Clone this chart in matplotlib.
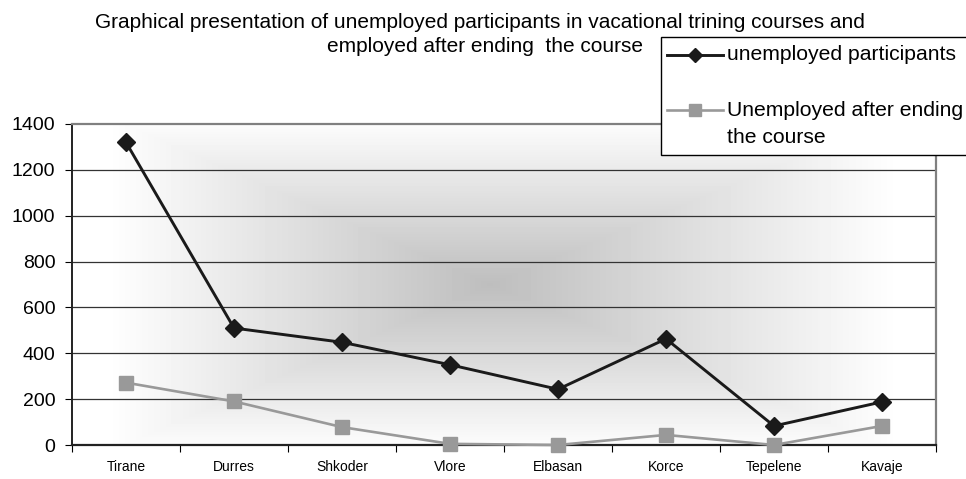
import numpy as np
import matplotlib
matplotlib.use("Agg")
import matplotlib.pyplot as plt
from matplotlib.lines import Line2D
from matplotlib.patches import Rectangle
from matplotlib.ticker import FixedLocator, NullFormatter

plt.rcParams['font.family'] = ['Liberation Sans', 'DejaVu Sans']

cities = ["Tirane", "Durres", "Shkoder", "Vlore", "Elbasan", "Korce", "Tepelene", "Kavaje"]
unemployed_participants = [1320, 510, 448, 350, 243, 463, 83, 188]
unemployed_after_course = [272, 190, 78, 5, 0, 44, 0, 83]
y_ticks = [0, 200, 400, 600, 800, 1000, 1200, 1400]

W, H = 966, 479
fig = plt.figure(figsize=(W / 100, H / 100), dpi=100)
ax = fig.add_axes([72 / W, 34 / H, 864 / W, 321 / H])

x = np.arange(len(cities))
ax.set_xlim(-0.5, len(cities) - 0.5)
ax.set_ylim(0, 1400)

# Rectangular "from centre" gradient fill behind the plot area
nx, ny = 864, 321
gx = (np.arange(nx) + 0.5) / nx
gy = (np.arange(ny) + 0.5) / ny
GX, GY = np.meshgrid(gx, gy)
cx, cy = 0.484, 0.50
hx = np.where(GX < cx, 0.44, 0.47)
hy = 0.52
d = np.maximum(np.abs(GX - cx) / hx, np.abs(GY - cy) / hy)
d = np.clip(d, 0, 1)
shade = 0.745 + (1.0 - 0.745) * d
shade = np.round(shade * 255) / 255
ax.imshow(shade, cmap='gray', vmin=0, vmax=1, extent=[0, 1, 0, 1],
          transform=ax.transAxes, aspect='auto', origin='lower', zorder=0,
          interpolation='nearest')

for yt in y_ticks[1:-1]:
    ax.axhline(yt, color='#333333', lw=0.9, zorder=1)

grey_style = dict(color='#999999', lw=1.9, marker='s', ms=10,
                  markerfacecolor='#999999', markeredgecolor='#999999')
black_style = dict(color='#1a1a1a', lw=2.1, marker='D', ms=9,
                   markerfacecolor='#1a1a1a', markeredgecolor='#1a1a1a')

ax.plot(x, unemployed_after_course, zorder=3, clip_on=False, **grey_style)
ax.plot(x, unemployed_participants, zorder=4, clip_on=False, **black_style)

for side in ['top', 'right']:
    ax.spines[side].set_color('#808080')
    ax.spines[side].set_linewidth(1.6)
ax.spines['left'].set_color('#222222')
ax.spines['bottom'].set_color('#222222')
ax.spines['left'].set_linewidth(1.4)
ax.spines['bottom'].set_linewidth(1.6)

ax.set_yticks(y_ticks)
ax.tick_params(axis='y', labelsize=14, direction='out', length=5, pad=7)
ax.xaxis.set_major_locator(FixedLocator(np.arange(-0.5, len(cities), 1)))
ax.xaxis.set_major_formatter(NullFormatter())
ax.xaxis.set_minor_locator(FixedLocator(x))
ax.set_xticklabels(cities, minor=True)
ax.tick_params(axis='x', which='major', direction='out', length=5)
ax.tick_params(axis='x', which='minor', length=0, labelsize=10, pad=11)

fig.text(0.497, 1 - 22 / H,
         "Graphical presentation of unemployed participants in vacational trining courses and",
         ha='center', va='center', fontsize=15)
fig.text(0.502, 1 - 47 / H, "employed after ending  the course",
         ha='center', va='center', fontsize=15)

# Legend box (runs off the right edge of the figure)
fig.patches.append(Rectangle((661 / W, 1 - 155 / H), 320 / W, 118 / H,
                             transform=fig.transFigure, facecolor='white',
                             edgecolor='black', lw=1.0, zorder=5))
legend_entries = [
    (black_style, 55, ["unemployed participants"]),
    (grey_style, 110, ["Unemployed after ending", "the course"]),
]
for style, ypix, lines in legend_entries:
    yf = 1 - ypix / H
    ln = Line2D([667 / W, 695 / W, 723 / W], [yf, yf, yf],
                transform=fig.transFigure, markevery=[1], zorder=6, **style)
    ln.set_markersize(style['ms'] * 0.8)
    fig.lines.append(ln)
    for i, line in enumerate(lines):
        fig.text(727 / W, 1 - (ypix + 28 * i) / H, line, ha='left', va='center',
                 fontsize=15.2, zorder=7)

fig.savefig('out.png', dpi=100)
